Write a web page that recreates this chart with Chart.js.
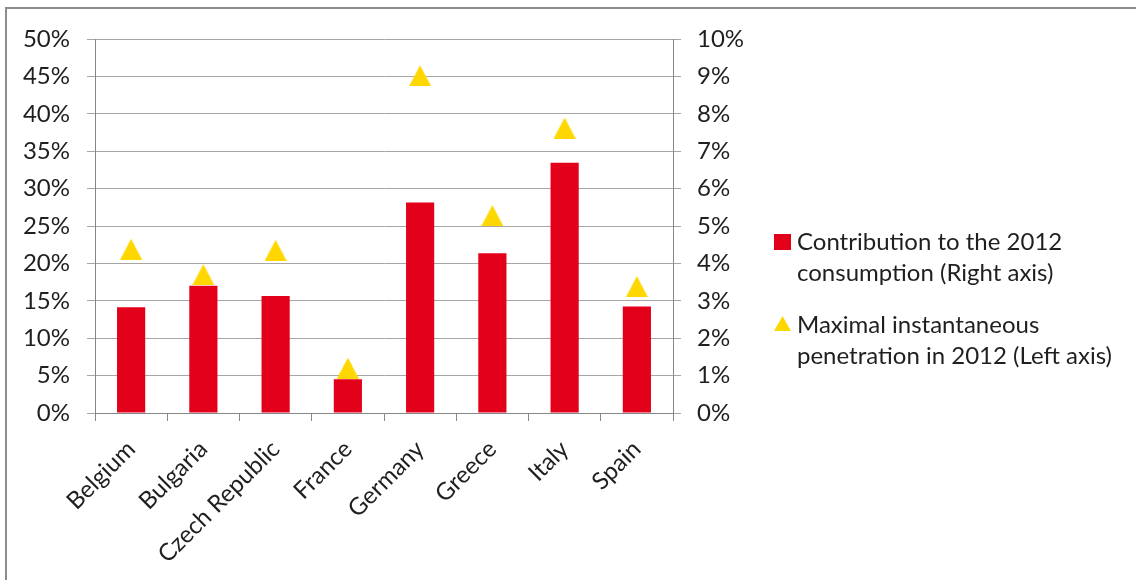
<!DOCTYPE html>
<html>
<head>
<meta charset="utf-8">
<script src="https://cdn.jsdelivr.net/npm/chart.js@4.4.1/dist/chart.umd.min.js"></script>
<style>
  html,body{margin:0;padding:0;background:#fff;overflow:hidden;}
  #wrap{position:relative;width:1136px;height:580px;}
  #frame{position:absolute;left:5px;top:7px;width:1200px;height:700px;border:2px solid #8c8c8c;box-sizing:border-box;}
  canvas{position:absolute;left:0;top:0;}
</style>
</head>
<body>
<div id="wrap">
  <div id="frame"></div>
  <canvas id="c" width="1136" height="580"></canvas>
</div>
<script>
// data
var countries = ['Belgium','Bulgaria','Czech Republic','France','Germany','Greece','Italy','Spain'];
var contribution = [0.0283, 0.0340, 0.0313, 0.0090, 0.0563, 0.0427, 0.0669, 0.0285];   // right axis
var maxPenetration = [0.219, 0.185, 0.2175, 0.060, 0.451, 0.264, 0.381, 0.169];       // left axis
var leftTicks = [0, 0.5, 0.05];
var rightTicks = [0, 0.1, 0.01];
var legendLines = [
  ['Contribution to the 2012', 'consumption (Right axis)'],
  ['Maximal instantaneous', 'penetration in 2012 (Left axis)']
];

var RED = '#e2001a', YELLOW = '#ffd700', TXT = '#1f1f1f';
var FONT = 'Lato, "Open Sans", sans-serif';
var FSIZE = 24;

// triangle marker like the excel one (as wide as it is tall)
var tri = document.createElement('canvas');
tri.width = 22; tri.height = 21;
(function(){
  var t = tri.getContext('2d');
  t.fillStyle = YELLOW;
  t.beginPath(); t.moveTo(11,0); t.lineTo(22,21); t.lineTo(0,21); t.closePath(); t.fill();
})();

var legendPlugin = {
  id: 'sideLegend',
  afterDraw: function(chart){
    var ctx = chart.ctx;
    ctx.save();
    ctx.font = FSIZE + 'px ' + FONT;
    ctx.fillStyle = TXT;
    ctx.textBaseline = 'alphabetic';
    var x = 797, y0 = [250, 333];
    legendLines.forEach(function(lines, i){
      lines.forEach(function(s, j){ ctx.fillText(s, x, y0[i] + j*31); });
    });
    ctx.fillStyle = RED;
    ctx.fillRect(774, 234, 17, 16);
    ctx.fillStyle = YELLOW;
    ctx.beginPath(); ctx.moveTo(782.5, 316); ctx.lineTo(791, 331); ctx.lineTo(774, 331); ctx.closePath(); ctx.fill();
    ctx.restore();
  }
};

function pct(v){ return Math.round(v*100) + '%'; }

new Chart(document.getElementById('c'), {
  type: 'bar',
  data: {
    labels: countries,
    datasets: [
      {type:'line', label:legendLines[1].join(' '), data:maxPenetration, yAxisID:'y', showLine:false,
       pointStyle:tri, pointRadius:11, pointHoverRadius:11, backgroundColor:YELLOW, borderColor:YELLOW, order:0},
      {type:'bar', label:legendLines[0].join(' '), data:contribution, yAxisID:'y1', backgroundColor:RED,
       categoryPercentage:1, barPercentage:0.39, order:1}
    ]
  },
  plugins: [legendPlugin],
  options: {
    responsive:false, animation:false, devicePixelRatio:1,
    layout:{padding:{top:39, left:0, right:0, bottom:0}},
    plugins:{legend:{display:false}, tooltip:{enabled:false}},
    scales:{
      x:{
        grid:{drawOnChartArea:false, drawTicks:true, tickLength:8, color:'#868686'},
        border:{color:'#868686'},
        ticks:{maxRotation:45, minRotation:45, autoSkip:false, color:TXT, padding:14, font:{family:FONT, size:FSIZE}},
        afterFit:function(s){ s.height = 167; }
      },
      y:{
        position:'left', min:leftTicks[0], max:leftTicks[1],
        grid:{color:'#a6a6a6', tickLength:8},
        border:{color:'#868686'},
        ticks:{stepSize:leftTicks[2], callback:pct, color:TXT, padding:17, font:{family:FONT, size:FSIZE}},
        afterFit:function(s){ s.width = 95; }
      },
      y1:{
        position:'right', min:rightTicks[0], max:rightTicks[1],
        grid:{drawOnChartArea:false, color:'#a6a6a6', tickLength:8},
        border:{color:'#868686'},
        ticks:{stepSize:rightTicks[2], callback:pct, color:TXT, padding:16, font:{family:FONT, size:FSIZE}},
        afterFit:function(s){ s.width = 463; }
      }
    }
  }
});
</script>
</body>
</html>
